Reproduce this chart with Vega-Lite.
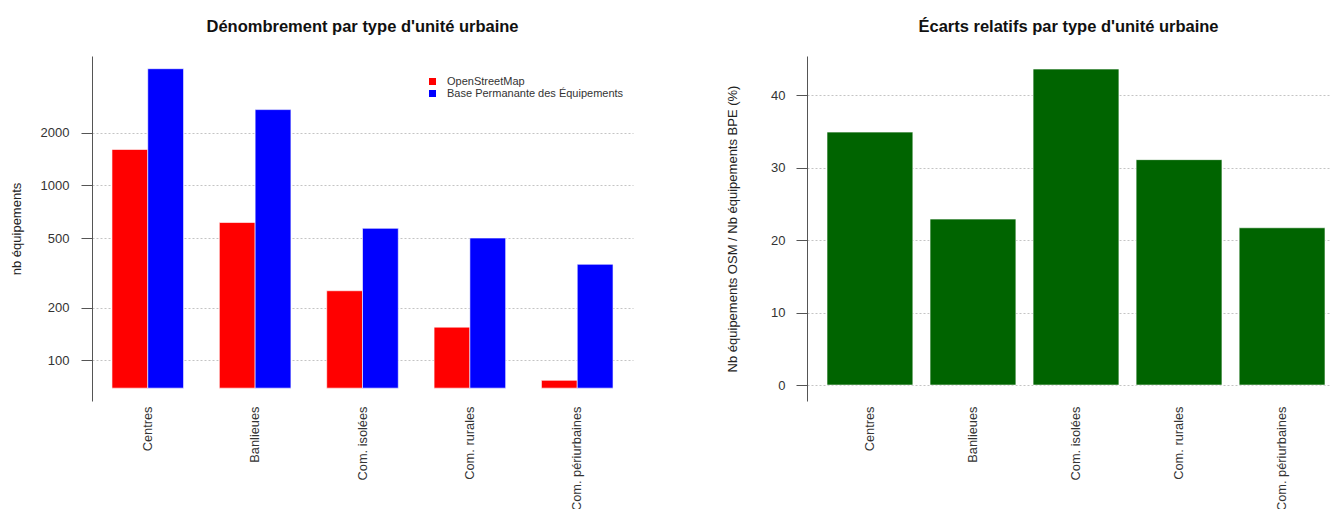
{
  "$schema": "https://vega.github.io/schema/vega-lite/v6.json",
  "padding": {"left": 10, "top": 18, "right": 0, "bottom": 0},
  "background": "white",
  "spacing": 93,
  "config": {
    "view": {"stroke": null},
    "font": "Liberation Sans",
    "axis": {"labelFont": "Liberation Sans", "titleFont": "Liberation Sans", "labelColor": "#333333", "titleColor": "#222222", "titleFontWeight": "normal", "domainColor": "#555555", "tickColor": "#555555"},
    "title": {"font": "Liberation Sans", "fontSize": 16.5, "fontWeight": "bold", "color": "#111111", "anchor": "middle", "offset": 21}
  },
  "datasets": {
    "counts": [
      {"type": "Centres", "source": "OpenStreetMap", "n": 1601},
      {"type": "Centres", "source": "Base Permanante des Équipements", "n": 4628},
      {"type": "Banlieues", "source": "OpenStreetMap", "n": 613},
      {"type": "Banlieues", "source": "Base Permanante des Équipements", "n": 2704},
      {"type": "Com. isolées", "source": "OpenStreetMap", "n": 250},
      {"type": "Com. isolées", "source": "Base Permanante des Équipements", "n": 568},
      {"type": "Com. rurales", "source": "OpenStreetMap", "n": 155},
      {"type": "Com. rurales", "source": "Base Permanante des Équipements", "n": 500},
      {"type": "Com. périurbaines", "source": "OpenStreetMap", "n": 77},
      {"type": "Com. périurbaines", "source": "Base Permanante des Équipements", "n": 354}
    ],
    "ratio": [
      {"type": "Centres", "pct": 34.9},
      {"type": "Banlieues", "pct": 22.9},
      {"type": "Com. isolées", "pct": 43.6},
      {"type": "Com. rurales", "pct": 31.1},
      {"type": "Com. périurbaines", "pct": 21.7}
    ]
  },
  "hconcat": [
    {
      "title": "Dénombrement par type d'unité urbaine",
      "width": 541,
      "height": 345,
      "data": {"name": "counts"},
      "mark": {"type": "bar", "stroke": "white", "strokeWidth": 0.6},
      "encoding": {
        "x": {
          "field": "type", "type": "nominal",
          "sort": ["Centres", "Banlieues", "Com. isolées", "Com. rurales", "Com. périurbaines"],
          "scale": {"paddingInner": 0.3333, "paddingOuter": 0.186},
          "axis": {"title": null, "labelAngle": -90, "ticks": false, "domain": false, "labelPadding": 5, "labelFontSize": 12.8, "labelLimit": 0}
        },
        "xOffset": {
          "field": "source", "type": "nominal",
          "sort": ["OpenStreetMap", "Base Permanante des Équipements"],
          "scale": {"paddingInner": 0, "paddingOuter": 0}
        },
        "y": {
          "field": "n", "type": "quantitative",
          "scale": {"type": "log", "domain": [58.7, 5470], "nice": false},
          "axis": {"title": "nb équipements", "values": [100, 200, 500, 1000, 2000], "format": "d", "labelFontSize": 13, "titleFontSize": 13, "tickSize": 11, "labelPadding": 12, "titlePadding": 17, "gridDash": [2, 2], "gridColor": "#c4c4c4"}
        },
        "y2": {"datum": 69.5},
        "color": {
          "field": "source", "type": "nominal",
          "sort": ["OpenStreetMap", "Base Permanante des Équipements"],
          "scale": {"domain": ["OpenStreetMap", "Base Permanante des Équipements"], "range": ["#ff0000", "#0000ff"]},
          "legend": {"title": null, "orient": "none", "legendX": 335, "legendY": 20, "symbolType": "square", "symbolSize": 49, "symbolStrokeWidth": 0, "labelFontSize": 11, "labelColor": "#333333", "rowPadding": 0, "labelOffset": 9, "labelLimit": 0}
        }
      }
    },
    {
      "title": "Écarts relatifs par type d'unité urbaine",
      "width": 523,
      "height": 345,
      "data": {"name": "ratio"},
      "mark": {"type": "bar", "color": "#006400", "stroke": "white", "strokeWidth": 0.6},
      "encoding": {
        "x": {
          "field": "type", "type": "nominal",
          "sort": ["Centres", "Banlieues", "Com. isolées", "Com. rurales", "Com. périurbaines"],
          "scale": {"paddingInner": 0.1667, "paddingOuter": 0.1214, "align": 0.8},
          "axis": {"title": null, "labelAngle": -90, "ticks": false, "domain": false, "labelPadding": 5, "labelFontSize": 12.8, "labelLimit": 0}
        },
        "y": {
          "field": "pct", "type": "quantitative",
          "scale": {"domain": [-2.2, 45.4], "nice": false, "zero": false},
          "axis": {"title": "Nb équipements OSM / Nb équipements BPE (%)", "values": [0, 10, 20, 30, 40], "labelFontSize": 13, "titleFontSize": 13, "tickSize": 11, "labelPadding": 11, "titlePadding": 31, "gridDash": [2, 2], "gridColor": "#c4c4c4"}
        }
      }
    }
  ]
}
